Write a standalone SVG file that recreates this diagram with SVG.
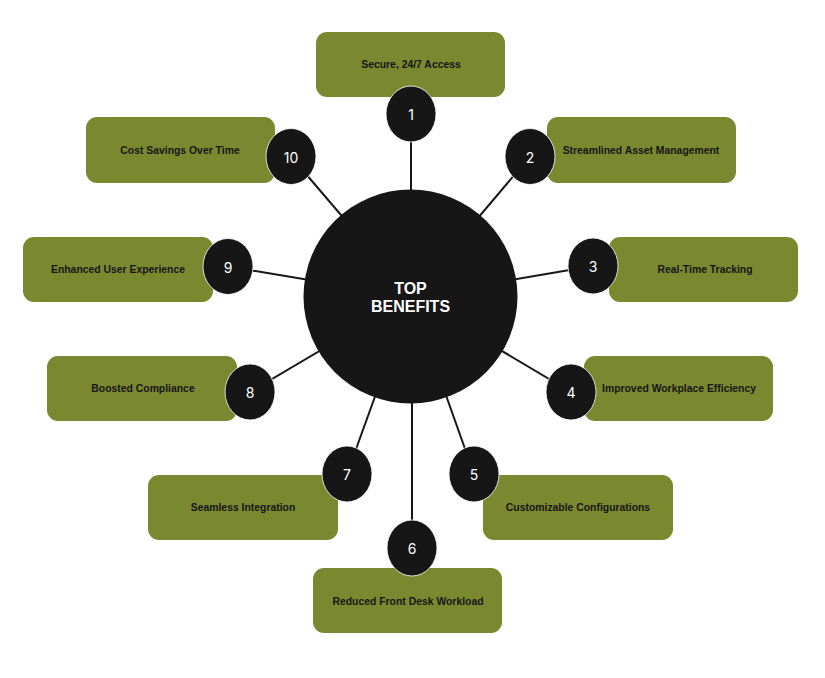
<svg xmlns="http://www.w3.org/2000/svg" width="825" height="678" viewBox="0 0 825 678">
<style>
.box{fill:#7a8830;}
.lbl{font-family:"Liberation Sans",Arial,sans-serif;font-weight:700;font-size:10.4px;fill:#161616;text-anchor:middle;dominant-baseline:central;}
.dot{fill:#161616;stroke:#ffffff;stroke-width:0.8;}
.num{font-family:"Inter","Liberation Sans",sans-serif;font-size:14px;fill:#ffffff;text-anchor:middle;dominant-baseline:central;}
.ln{stroke:#161616;stroke-width:2;fill:none;}
.title{font-family:"Liberation Sans",Arial,sans-serif;font-weight:700;font-size:16px;fill:#ffffff;text-anchor:middle;}
</style>
<rect width="825" height="678" fill="#ffffff"/>
<g id="connectors">
<line class="ln" x1="411" y1="297" x2="411" y2="114"/>
<line class="ln" x1="411" y1="297" x2="530" y2="156.5"/>
<line class="ln" x1="411" y1="297" x2="593" y2="266"/>
<line class="ln" x1="411" y1="297" x2="571" y2="392"/>
<line class="ln" x1="411" y1="297" x2="474" y2="474"/>
<line class="ln" x1="411" y1="297" x2="347" y2="474"/>
<line class="ln" x1="411" y1="297" x2="250" y2="392"/>
<line class="ln" x1="411" y1="297" x2="228" y2="266.5"/>
<line class="ln" x1="411" y1="297" x2="291" y2="156.5"/>
</g>
<g id="center">
<circle cx="410.5" cy="296.5" r="107" fill="#161616"/>
<text class="title" x="410.5" y="294">TOP</text>
<text class="title" x="410.5" y="312">BENEFITS</text>
</g>
<g id="connector-6">
<line class="ln" x1="412" y1="395" x2="412" y2="548"/>
</g>
<g id="node1">
<rect class="box" x="316" y="32" width="189" height="65" rx="11"/>
<text class="lbl" x="411" y="64">Secure, 24/7 Access</text>
<ellipse class="dot" cx="411" cy="114" rx="25" ry="28"/>
<text class="num" x="411" y="114">1</text>
</g>
<g id="node2">
<rect class="box" x="547" y="117" width="189" height="66" rx="11"/>
<text class="lbl" x="641" y="150">Streamlined Asset Management</text>
<ellipse class="dot" cx="530" cy="156.5" rx="25" ry="28"/>
<text class="num" x="530" y="157">2</text>
</g>
<g id="node3">
<rect class="box" x="609" y="237" width="189" height="65" rx="11"/>
<text class="lbl" x="705" y="269">Real-Time Tracking</text>
<ellipse class="dot" cx="593" cy="266" rx="25" ry="28"/>
<text class="num" x="593" y="266">3</text>
</g>
<g id="node4">
<rect class="box" x="584" y="356" width="189" height="65" rx="11"/>
<text class="lbl" x="679" y="388">Improved Workplace Efficiency</text>
<ellipse class="dot" cx="571" cy="392" rx="25" ry="28"/>
<text class="num" x="571" y="392">4</text>
</g>
<g id="node5">
<rect class="box" x="483" y="475" width="190" height="65" rx="11"/>
<text class="lbl" x="578" y="507">Customizable Configurations</text>
<ellipse class="dot" cx="474" cy="474" rx="25" ry="28"/>
<text class="num" x="474" y="474">5</text>
</g>
<g id="node6">
<rect class="box" x="313" y="568" width="189" height="65" rx="11"/>
<text class="lbl" x="408" y="601">Reduced Front Desk Workload</text>
<ellipse class="dot" cx="412" cy="548" rx="25" ry="28"/>
<text class="num" x="412" y="548">6</text>
</g>
<g id="node7">
<rect class="box" x="148" y="475" width="190" height="65" rx="11"/>
<text class="lbl" x="243" y="507">Seamless Integration</text>
<ellipse class="dot" cx="347" cy="474" rx="25" ry="28"/>
<text class="num" x="347" y="474">7</text>
</g>
<g id="node8">
<rect class="box" x="47" y="356" width="190" height="65" rx="11"/>
<text class="lbl" x="143" y="388">Boosted Compliance</text>
<ellipse class="dot" cx="250" cy="392" rx="25" ry="28"/>
<text class="num" x="250" y="392">8</text>
</g>
<g id="node9">
<rect class="box" x="23" y="237" width="190" height="65" rx="11"/>
<text class="lbl" x="118" y="269">Enhanced User Experience</text>
<ellipse class="dot" cx="228" cy="266.5" rx="25" ry="28"/>
<text class="num" x="228" y="267">9</text>
</g>
<g id="node10">
<rect class="box" x="86" y="117" width="189" height="66" rx="11"/>
<text class="lbl" x="180" y="150">Cost Savings Over Time</text>
<ellipse class="dot" cx="291" cy="156.5" rx="25" ry="28"/>
<text class="num" x="291" y="157">10</text>
</g>
</svg>
